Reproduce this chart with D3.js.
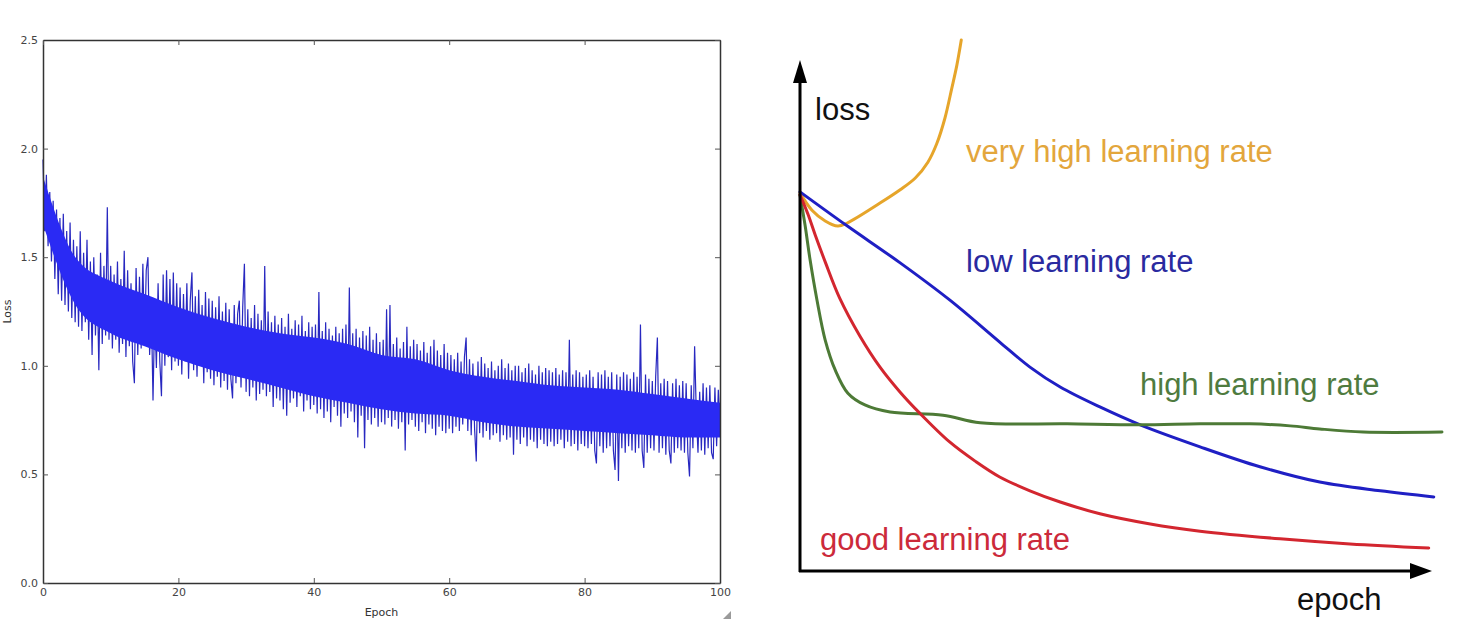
<!DOCTYPE html>
<html>
<head>
	<meta charset="utf-8">
	<title>Loss curves</title>
	<script src="https://cdn.jsdelivr.net/npm/d3@7"></script>
	<style type="text/css">
		body { margin: 0; background: #fff; }
		.tick text { font-family: "DejaVu Sans", sans-serif; font-size: 11px; fill: #444; }
		.hand { font-family: "Liberation Sans", Arial, sans-serif; font-size: 31px; }
	</style>
</head>
<body>
	<script type="text/javascript">
		// ---- left: training loss, one value every quarter epoch ----
		var lossEpochStep = 0.25;
		var lossValues = [
			1.95,1.62,1.88,1.55,1.80,1.48,1.76,1.40,1.72,1.33,1.68,1.30,1.70,1.28,1.62,1.25,1.66,1.22,1.58,1.20,
			1.55,1.18,1.62,1.16,1.52,1.20,1.58,1.12,1.48,1.05,1.50,1.14,1.42,0.98,1.52,1.10,1.46,1.14,1.73,1.12,
			1.46,1.08,1.42,1.12,1.48,1.06,1.40,1.10,1.53,1.04,1.44,1.09,1.38,1.02,0.92,1.45,1.05,1.41,1.08,1.47,
			1.10,1.44,1.50,1.05,1.27,0.84,1.25,0.99,1.38,1.02,0.86,1.42,1.00,1.44,1.04,1.40,0.98,1.43,1.02,1.38,
			1.00,1.36,0.96,1.33,1.02,1.38,0.94,1.30,1.43,0.98,1.32,0.95,1.35,1.00,1.28,0.92,1.34,0.97,1.31,0.94,
			1.30,0.91,1.27,0.95,1.32,0.90,1.25,0.93,1.29,0.89,1.26,0.94,0.85,1.28,0.92,1.24,1.30,0.90,1.27,1.47,
			0.88,1.26,0.86,1.22,0.90,1.28,0.84,1.24,0.87,1.21,0.89,1.46,0.86,1.25,0.88,1.20,0.81,1.23,0.85,1.19,
			0.84,1.22,0.80,1.18,0.77,1.24,0.83,1.17,0.85,1.21,0.81,1.19,0.86,1.23,0.79,1.16,0.84,1.20,0.80,1.18,
			0.82,1.19,0.78,1.34,0.80,1.16,0.76,1.20,0.79,1.17,0.74,1.14,0.81,1.18,0.77,1.15,0.72,1.17,0.78,1.19,
			0.76,1.36,0.79,1.15,0.74,1.17,0.67,1.13,0.77,1.16,0.62,1.14,0.75,1.18,0.73,1.12,0.76,1.15,0.72,1.11,
			0.74,1.12,0.73,1.26,0.76,1.28,0.72,1.10,0.75,1.13,0.71,1.08,0.74,1.11,0.61,1.18,0.73,1.09,0.75,1.12,
			0.72,1.10,0.70,1.07,0.74,1.11,0.69,1.06,0.73,1.09,0.71,1.12,0.68,1.07,0.72,1.05,0.70,1.10,0.69,1.06,
			0.71,1.05,0.69,1.03,0.72,1.06,0.70,1.02,0.73,1.04,1.13,0.70,1.03,0.68,1.01,0.71,0.56,1.02,0.69,1.04,
			0.67,1.01,0.70,0.99,0.66,1.02,0.68,0.98,0.69,1.00,0.65,1.03,0.68,0.99,0.66,1.01,0.67,0.98,0.59,1.00,
			0.66,1.00,0.64,0.97,0.67,0.99,0.63,1.01,0.66,0.98,0.65,0.96,0.62,1.00,0.66,0.97,0.64,0.99,0.63,0.98,
			0.65,0.97,0.63,0.99,0.64,0.96,0.66,0.98,0.62,0.97,0.65,1.12,0.63,0.96,0.64,0.98,0.61,0.97,0.64,0.95,
			0.63,0.96,0.62,0.98,0.64,0.95,0.61,0.55,0.97,0.63,0.96,0.60,0.98,0.62,0.95,0.63,0.97,0.61,0.52,0.96,
			0.47,0.95,0.62,0.97,0.60,0.96,0.63,0.94,0.61,0.97,0.60,0.95,0.62,1.19,0.61,0.53,0.96,0.60,0.94,0.62,
			0.93,0.61,0.95,1.13,0.60,0.92,0.62,0.94,0.59,0.93,0.61,0.55,0.92,0.60,0.94,0.62,0.91,0.61,0.93,0.60,
			0.92,0.60,0.49,0.91,0.62,1.09,0.78,0.60,0.88,0.61,0.92,0.59,0.90,0.62,0.91,0.60,0.57,0.90,0.63,0.89,
			0.74
		];
		// solid core of the noisy band, every 5 epochs
		var bandEpochStep = 5;
		var bandLow  = [1.65,1.27,1.15,1.09,1.03,0.98,0.94,0.90,0.86,0.83,0.80,0.78,0.77,0.74,0.72,0.71,0.70,0.69,0.68,0.67,0.67];
		var bandHigh = [1.87,1.49,1.39,1.33,1.27,1.22,1.18,1.15,1.13,1.10,1.05,1.03,0.98,0.95,0.93,0.91,0.90,0.89,0.87,0.85,0.83];
		var epochTicks = [0, 20, 40, 60, 80, 100];
		var lossTicks = [0.0, 0.5, 1.0, 1.5, 2.0, 2.5];

		// ---- right: sketch of learning rates, [epoch, loss] in 0..100 units ----
		var veryHighCurve = [[0,74.0],[1.9,70.6],[4.0,68.5],[6.0,67.5],[7.5,68.1],[12.7,72.0],[15.9,74.6],[18.3,76.9],[20.3,80.0],[21.7,83.6],[23.0,88.6],[24.1,94.5],[24.9,99.0],[25.6,103.9]];
		var lowCurve = [[0,74.2],[7.3,67.7],[15.9,60.3],[23.8,53.0],[31.7,44.8],[36.5,39.9],[41.3,36.0],[47.6,32.1],[54.0,28.6],[63.5,24.3],[73.0,20.4],[82.5,17.4],[92.1,15.7],[100.6,14.5]];
		var highCurve = [[0,73.6],[0.8,67.7],[1.6,60.9],[2.7,53.0],[4.0,45.2],[5.6,39.3],[7.6,34.8],[10.3,32.5],[14.3,31.1],[22.7,30.5],[28.6,29.0],[42.4,28.8],[54.0,28.6],[63.5,28.8],[71.4,28.8],[77.8,28.4],[82.5,27.8],[89.4,27.2],[101.9,27.2]];
		var goodCurve = [[0,73.6],[1.3,69.7],[2.4,65.8],[4.0,60.5],[6.3,53.4],[9.5,46.0],[12.7,39.9],[15.9,35.0],[19.0,30.9],[23.8,25.2],[27.8,21.5],[31.7,18.4],[36.5,15.7],[41.3,13.5],[47.6,11.2],[55.6,9.2],[63.5,7.8],[76.2,6.3],[87.3,5.3],[99.8,4.5]];
		var curveNames = ["very high learning rate", "low learning rate", "high learning rate", "good learning rate"];
		var curveColors = ["#e6a52a", "#1f1fc4", "#4d7a36", "#d3262f"];
		var labelColors = ["#e3a63c", "#2a2aa0", "#4f7b3f", "#cc2a3a"];

		var svg = d3.select("body").append("svg")
			.attr("width", 1474)
			.attr("height", 621);

		// ===== left chart =====
		var xL = d3.scaleLinear().domain([0, 100]).range([43, 720]);
		var yL = d3.scaleLinear().domain([0, 2.5]).range([583, 40]);

		var lossLine = d3.line()
			.x(function(d, i) { return xL(i * lossEpochStep); })
			.y(function(d) { return yL(d); });

		svg.append("path")
			.datum(lossValues)
			.attr("d", lossLine)
			.attr("fill", "none")
			.attr("stroke", "#2828c0")
			.attr("stroke-width", 1.2);

		var bandArea = d3.area()
			.x(function(d, i) { return xL(i * bandEpochStep); })
			.y0(function(d, i) { return yL(bandLow[i]); })
			.y1(function(d, i) { return yL(bandHigh[i]); })
			.curve(d3.curveMonotoneX);

		svg.append("path")
			.datum(bandLow)
			.attr("d", bandArea)
			.attr("fill", "#2a2af4");

		// frame with inward ticks on all four sides
		svg.append("g")
			.attr("transform", "translate(0," + yL(0) + ")")
			.call(d3.axisBottom(xL).tickValues(epochTicks).tickSizeInner(-5).tickSizeOuter(0).tickPadding(5).tickFormat(d3.format("d")));
		svg.append("g")
			.attr("transform", "translate(" + xL(0) + ",0)")
			.call(d3.axisLeft(yL).tickValues(lossTicks).tickSizeInner(-5).tickSizeOuter(0).tickPadding(5).tickFormat(d3.format(".1f")));
		svg.append("g")
			.attr("transform", "translate(0," + yL(2.5) + ")")
			.call(d3.axisTop(xL).tickValues(epochTicks).tickSizeInner(-5).tickSizeOuter(0).tickFormat(""));
		svg.append("g")
			.attr("transform", "translate(" + xL(100) + ",0)")
			.call(d3.axisRight(yL).tickValues(lossTicks).tickSizeInner(-5).tickSizeOuter(0).tickFormat(""));
		svg.selectAll(".domain").attr("stroke", "#333").attr("stroke-width", 1.5);
		svg.selectAll(".tick line").attr("stroke", "#555");

		svg.append("text")
			.attr("x", (xL(0) + xL(100)) / 2)
			.attr("y", 616)
			.attr("text-anchor", "middle")
			.style("font-family", "DejaVu Sans, sans-serif")
			.style("font-size", "11px")
			.attr("fill", "#333")
			.text("Epoch");
		svg.append("text")
			.attr("transform", "translate(11," + (yL(0) + yL(2.5)) / 2 + ") rotate(-90)")
			.attr("text-anchor", "middle")
			.style("font-family", "DejaVu Sans, sans-serif")
			.style("font-size", "11px")
			.attr("fill", "#333")
			.text("Loss");

		// little resize grip under the plot
		svg.append("path")
			.attr("d", "M723,619 L731,611 L731,619 Z")
			.attr("fill", "#9a9a9a");

		// ===== right chart =====
		var xR = d3.scaleLinear().domain([0, 100]).range([800, 1430]);
		var yR = d3.scaleLinear().domain([0, 100]).range([571, 60]);

		var sketch = d3.line()
			.x(function(d) { return xR(d[0]); })
			.y(function(d) { return yR(d[1]); })
			.curve(d3.curveCatmullRom.alpha(0.5));

		[veryHighCurve, lowCurve, highCurve, goodCurve].forEach(function(c, i) {
			svg.append("path")
				.datum(c)
				.attr("d", sketch)
				.attr("fill", "none")
				.attr("stroke", curveColors[i])
				.attr("stroke-width", 3)
				.attr("stroke-linecap", "round");
		});

		// hand drawn axes with arrow heads
		svg.append("line")
			.attr("x1", xR(0)).attr("y1", yR(0) + 1)
			.attr("x2", xR(0)).attr("y2", yR(100) + 18)
			.attr("stroke", "#000").attr("stroke-width", 3);
		svg.append("path")
			.attr("d", "M" + xR(0) + "," + yR(100) + " L" + (xR(0) - 7) + "," + (yR(100) + 23) + " L" + (xR(0) + 7) + "," + (yR(100) + 23) + " Z")
			.attr("fill", "#000");
		svg.append("line")
			.attr("x1", xR(0) - 1).attr("y1", yR(0))
			.attr("x2", xR(100) - 18).attr("y2", yR(0))
			.attr("stroke", "#000").attr("stroke-width", 3);
		svg.append("path")
			.attr("d", "M" + (xR(100) + 2) + "," + yR(0) + " L" + (xR(100) - 20) + "," + (yR(0) - 8) + " L" + (xR(100) - 20) + "," + (yR(0) + 8) + " Z")
			.attr("fill", "#000");

		svg.append("text").attr("class", "hand")
			.attr("x", 815).attr("y", 120).attr("fill", "#111").text("loss");
		svg.append("text").attr("class", "hand")
			.attr("x", 1297).attr("y", 610).attr("fill", "#111").text("epoch");

		var labelPos = [[966, 162], [966, 272], [1140, 395], [820, 550]];
		curveNames.forEach(function(name, i) {
			svg.append("text").attr("class", "hand")
				.attr("x", labelPos[i][0])
				.attr("y", labelPos[i][1])
				.attr("fill", labelColors[i])
				.text(name);
		});
	</script>
</body>
</html>
